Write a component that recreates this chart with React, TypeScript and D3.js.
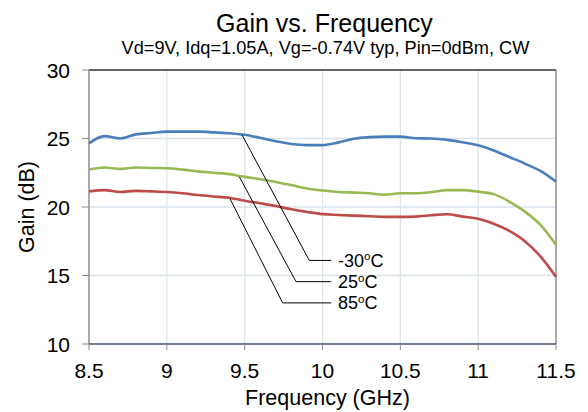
import React from "react";
import * as d3 from "d3";

const freqs = [8.5, 8.6, 8.7, 8.8, 8.9, 9.0, 9.1, 9.2, 9.3, 9.4, 9.5, 9.6, 9.7, 9.8, 9.9, 10.0, 10.1, 10.2, 10.3, 10.4, 10.5, 10.6, 10.7, 10.8, 10.9, 11.0, 11.1, 11.2, 11.3, 11.4, 11.5];
const gainM30 = [24.64, 25.17, 25.0, 25.3, 25.4, 25.5, 25.5, 25.5, 25.45, 25.38, 25.27, 25.05, 24.8, 24.6, 24.52, 24.52, 24.7, 24.98, 25.1, 25.14, 25.14, 25.02, 25.0, 24.9, 24.73, 24.5, 24.13, 23.65, 23.17, 22.63, 21.85];
const gain25 = [22.73, 22.88, 22.78, 22.88, 22.85, 22.83, 22.73, 22.6, 22.5, 22.4, 22.2, 22.03, 21.83, 21.6, 21.35, 21.2, 21.1, 21.05, 21.0, 20.9, 21.0, 21.0, 21.08, 21.23, 21.23, 21.12, 20.94, 20.4, 19.66, 18.7, 17.25];
const gain85 = [21.14, 21.23, 21.1, 21.18, 21.14, 21.09, 21.0, 20.87, 20.77, 20.68, 20.46, 20.27, 20.07, 19.83, 19.64, 19.48, 19.42, 19.37, 19.33, 19.28, 19.28, 19.3, 19.4, 19.47, 19.3, 19.15, 18.78, 18.25, 17.5, 16.4, 14.9];

const xTicks = [8.5, 9, 9.5, 10, 10.5, 11, 11.5];
const yTicks = [10, 15, 20, 25, 30];

const seriesNames = ["-30", "25", "85"];
const seriesColors = ["#4A7EBB", "#98B954", "#BE4B48"];
const seriesValues = [gainM30, gain25, gain85];

// leader annotations: start point on curve (freq, gain), elbow (freq, gain)
const leaderStartFreq = [9.483, 9.466, 9.406];
const leaderStartGain = [25.26, 22.2, 20.6];
const leaderElbowFreq = [9.915, 9.83, 9.744];
const leaderElbowGain = [16.1, 14.55, 13.0];
const leaderEndFreq = 10.056;
const labelFreq = 10.1;

const title = "Gain vs. Frequency";
const subtitle = "Vd=9V, Idq=1.05A, Vg=-0.74V typ, Pin=0dBm, CW";
const xTitle = "Frequency (GHz)";
const yTitle = "Gain (dB)";

export default function App() {
  const W = 588, H = 412;
  const L = 89, R = 556, T = 70, B = 344;
  const x = d3.scaleLinear().domain([8.5, 11.5]).range([L, R]);
  const y = d3.scaleLinear().domain([10, 30]).range([B, T]);
  const line = d3
    .line<number>()
    .x((_, i) => x(freqs[i]))
    .y((d) => y(d))
    .curve(d3.curveMonotoneX);
  const font = "Liberation Sans, Arial, sans-serif";

  return (
    <svg width={W} height={H} style={{ position: "absolute", left: 0, top: 0, background: "#fff" }} fontFamily={font}>
      <rect x={0} y={0} width={W} height={H} fill="#fff" />
      {/* gridlines */}
      {xTicks.slice(1, -1).map((t) => (
        <line key={"gx" + t} x1={x(t)} x2={x(t)} y1={T} y2={B} stroke="#D9E1EA" strokeWidth={1.2} />
      ))}
      {yTicks.slice(1, -1).map((t) => (
        <line key={"gy" + t} x1={L} x2={R} y1={y(t)} y2={y(t)} stroke="#D9E1EA" strokeWidth={1.5} />
      ))}
      {/* borders */}
      <line x1={L} x2={R} y1={T} y2={T} stroke="#333" strokeWidth={1.5} />
      <line x1={R} x2={R} y1={T} y2={B} stroke="#8C8C8C" strokeWidth={1.5} />
      <line x1={L} x2={L} y1={T} y2={B} stroke="#8C8C8C" strokeWidth={1.5} />
      <line x1={L} x2={R} y1={B} y2={B} stroke="#44546A" strokeWidth={1.5} />
      {/* ticks */}
      {yTicks.map((t) => (
        <g key={"yt" + t}>
          <line x1={L - 7} x2={L} y1={y(t)} y2={y(t)} stroke="#8C8C8C" strokeWidth={1} />
          <text x={L - 19} y={y(t) + 7.5} textAnchor="end" fontSize={21} fill="#000">
            {t}
          </text>
        </g>
      ))}
      {xTicks.map((t) => (
        <g key={"xt" + t}>
          <line x1={x(t)} x2={x(t)} y1={B} y2={B + 6} stroke="#8C8C8C" strokeWidth={1} />
          <text x={x(t)} y={B + 34} textAnchor="middle" fontSize={21} fill="#000">
            {t}
          </text>
        </g>
      ))}
      {/* series */}
      {seriesValues.map((vals, i) => (
        <path key={"s" + i} d={line(vals) || ""} fill="none" stroke={seriesColors[i]} strokeWidth={2.6} strokeLinejoin="round" />
      ))}
      {/* leaders */}
      {seriesNames.map((n, i) => (
        <g key={"ld" + i}>
          <polyline
            points={`${x(leaderStartFreq[i])},${y(leaderStartGain[i])} ${x(leaderElbowFreq[i])},${y(leaderElbowGain[i])} ${x(leaderEndFreq)},${y(leaderElbowGain[i])}`}
            fill="none"
            stroke="#000"
            strokeWidth={1}
          />
          <text x={x(labelFreq)} y={y(leaderElbowGain[i]) + 6.5} fontSize={18} fill="#000">
            {n}
            <tspan fontSize={11.5} dy={-6.5}>o</tspan>
            <tspan dy={6.5}>C</tspan>
          </text>
        </g>
      ))}
      {/* titles */}
      <text x={(L + R) / 2 + 2} y={32} textAnchor="middle" fontSize={25} fill="#000">
        {title}
      </text>
      <text x={(L + R) / 2 + 3} y={54} textAnchor="middle" fontSize={18.2} fill="#000">
        {subtitle}
      </text>
      <text x={(L + R) / 2 + 5} y={405} textAnchor="middle" fontSize={21.5} fill="#000">
        {xTitle}
      </text>
      <text transform={`translate(34,${(T + B) / 2}) rotate(-90)`} textAnchor="middle" fontSize={21.5} fill="#000">
        {yTitle}
      </text>
    </svg>
  );
}
